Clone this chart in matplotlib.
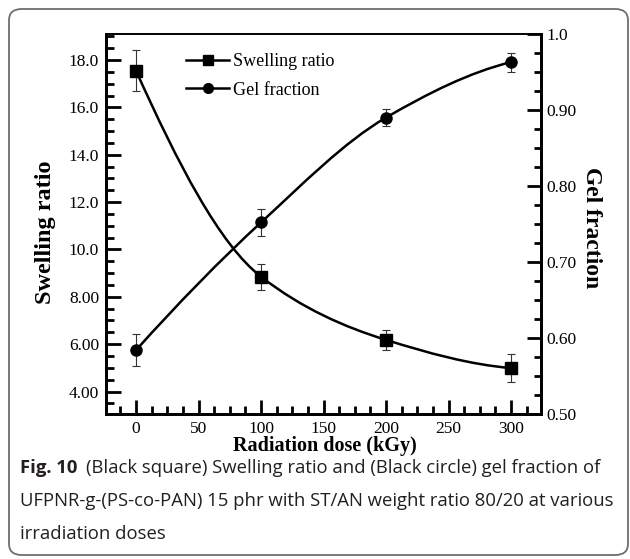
import numpy as np
import matplotlib
matplotlib.use("Agg")
import matplotlib.pyplot as plt
from matplotlib.path import Path
from matplotlib.patches import PathPatch, FancyBboxPatch
from matplotlib.lines import Line2D
from matplotlib.ticker import MultipleLocator, FixedLocator, FixedFormatter

# data
dose = [0, 100, 200, 300]
swelling = [17.55, 8.85, 6.18, 4.99]
swelling_err = [0.87, 0.55, 0.43, 0.60]
gel = [0.584, 0.752, 0.890, 0.963]
gel_err = [0.021, 0.018, 0.011, 0.0125]

left_ticks = [4, 6, 8, 10, 12, 14, 16, 18]
left_labels = ["4.00", "6.00", "8.00", "10.0", "12.0", "14.0", "16.0", "18.0"]
right_ticks = [0.5, 0.6, 0.7, 0.8, 0.9, 1.0]
right_labels = ["0.50", "0.60", "0.70", "0.80", "0.90", "1.0"]
x_ticks = [0, 50, 100, 150, 200, 250, 300]

serif = "Liberation Serif"


def smooth_path(xs, ys):
	# monotone cubic (pchip-style slopes) through the points, as Bezier segments
	x = np.asarray(xs, float)
	y = np.asarray(ys, float)
	h = np.diff(x)
	d = np.diff(y) / h
	m = np.zeros_like(y)
	for i in range(1, len(y) - 1):
		if d[i - 1] * d[i] > 0:
			m[i] = 2.0 / (1.0 / d[i - 1] + 1.0 / d[i])
	m[0] = ((2 * h[0] + h[1]) * d[0] - h[0] * d[1]) / (h[0] + h[1])
	m[-1] = ((2 * h[-1] + h[-2]) * d[-1] - h[-1] * d[-2]) / (h[-1] + h[-2])
	verts = [(x[0], y[0])]
	codes = [Path.MOVETO]
	for i in range(len(x) - 1):
		k = h[i] / 3.0
		verts += [(x[i] + k, y[i] + k * m[i]), (x[i + 1] - k, y[i + 1] - k * m[i + 1]), (x[i + 1], y[i + 1])]
		codes += [Path.CURVE4] * 3
	return Path(verts, codes)


fig = plt.figure(figsize=(6.3, 5.59), dpi=100)

# rounded frame around the whole figure
frame = FancyBboxPatch((9 / 630, 4 / 559), 619 / 630, 546 / 559,
	boxstyle="round,pad=0,rounding_size=0.02", transform=fig.transFigure,
	facecolor="none", edgecolor="#6e6e6e", linewidth=1.3)
fig.patches.append(frame)

ax = fig.add_axes([106 / 630, 1 - 414 / 559, 435 / 630, 380 / 559])
ax2 = ax.twinx()

# swelling ratio (left axis)
ax.add_patch(PathPatch(smooth_path(dose, swelling), facecolor="none", edgecolor="black", lw=1.8, zorder=2))
ax.errorbar(dose, swelling, yerr=swelling_err, fmt="none", ecolor="#333333", elinewidth=0.8, capsize=3, capthick=0.8, zorder=3)
ax.plot(dose, swelling, linestyle="none", marker="s", markersize=8, color="black", zorder=4)

# gel fraction (right axis)
ax2.add_patch(PathPatch(smooth_path(dose, gel), facecolor="none", edgecolor="black", lw=1.8, zorder=2))
ax2.errorbar(dose, gel, yerr=gel_err, fmt="none", ecolor="#333333", elinewidth=0.8, capsize=3, capthick=0.8, zorder=3)
ax2.plot(dose, gel, linestyle="none", marker="o", markersize=8, color="black", zorder=4)

ax.set_xlim(-24, 324)
ax.set_ylim(3.05, 19.1)
ax2.set_ylim(0.5, 1.0)

ax.xaxis.set_major_locator(FixedLocator(x_ticks))
ax.xaxis.set_minor_locator(MultipleLocator(12.5))
ax.yaxis.set_major_locator(FixedLocator(left_ticks))
ax.yaxis.set_major_formatter(FixedFormatter(left_labels))
ax.yaxis.set_minor_locator(MultipleLocator(0.5))
ax2.yaxis.set_major_locator(FixedLocator(right_ticks))
ax2.yaxis.set_major_formatter(FixedFormatter(right_labels))
ax2.yaxis.set_minor_locator(MultipleLocator(0.025))

ax.tick_params(axis="both", which="major", direction="in", width=2, colors="black", labelsize=12.5, pad=5)
ax.tick_params(axis="y", which="major", length=11)
ax.tick_params(axis="x", which="major", length=10)
ax.tick_params(axis="both", which="minor", direction="in", width=2, length=6)
ax.tick_params(top=False, right=False, which="both")
ax2.tick_params(axis="y", which="major", direction="in", width=2, length=10, labelsize=12.5, pad=4)
ax2.tick_params(axis="y", which="minor", direction="in", width=2, length=5)

for a in (ax, ax2):
	for lab in a.get_xticklabels() + a.get_yticklabels():
		lab.set_fontfamily(serif)
	for side in ("left", "right", "bottom"):
		a.spines[side].set_linewidth(2)
	a.spines["top"].set_linewidth(1.2)

# legend
handles = [Line2D([], [], color="black", lw=1.8, marker="s", markersize=7),
	Line2D([], [], color="black", lw=1.8, marker="o", markersize=7)]
ax.legend(handles, ["Swelling ratio", "Gel fraction"], loc="upper left",
	bbox_to_anchor=(177 / 630, 1 - 44 / 559), bbox_transform=fig.transFigure,
	frameon=False, handlelength=2.4, handletextpad=0.2, labelspacing=0.65,
	borderpad=0, prop={"family": serif, "size": 13})

# axis titles
fig.text(45 / 630, 1 - 232 / 559, "Swelling ratio", rotation=90, ha="center", va="center",
	family=serif, fontsize=17.5, fontweight="bold")
fig.text(592 / 630, 1 - 228 / 559, "Gel fraction", rotation=270, ha="center", va="center",
	family=serif, fontsize=17, fontweight="bold")
fig.text(325 / 630, 1 - 446 / 559, "Radiation dose (kGy)", ha="center", va="center",
	family=serif, fontsize=14.5, fontweight="bold")

# caption
cap = "Open Sans"
fig.canvas.draw()
r = fig.canvas.get_renderer()
t = fig.text(20 / 630, 1 - 468 / 559, "Fig. 10", ha="left", va="center", family=cap,
	fontsize=13.3, fontweight="bold", color="#231f20")
bb = t.get_window_extent(renderer=r)
fig.text((bb.x1 + 9) / 630, 1 - 468 / 559, "(Black square) Swelling ratio and (Black circle) gel fraction of",
	ha="left", va="center", family=cap, fontsize=13.3, color="#231f20")
fig.text(20 / 630, 1 - 501 / 559, "UFPNR-g-(PS-co-PAN) 15 phr with ST/AN weight ratio 80/20 at various",
	ha="left", va="center", family=cap, fontsize=13.3, color="#231f20")
fig.text(20 / 630, 1 - 534 / 559, "irradiation doses", ha="left", va="center", family=cap,
	fontsize=13.3, color="#231f20")

fig.savefig("out.png", dpi=100)
